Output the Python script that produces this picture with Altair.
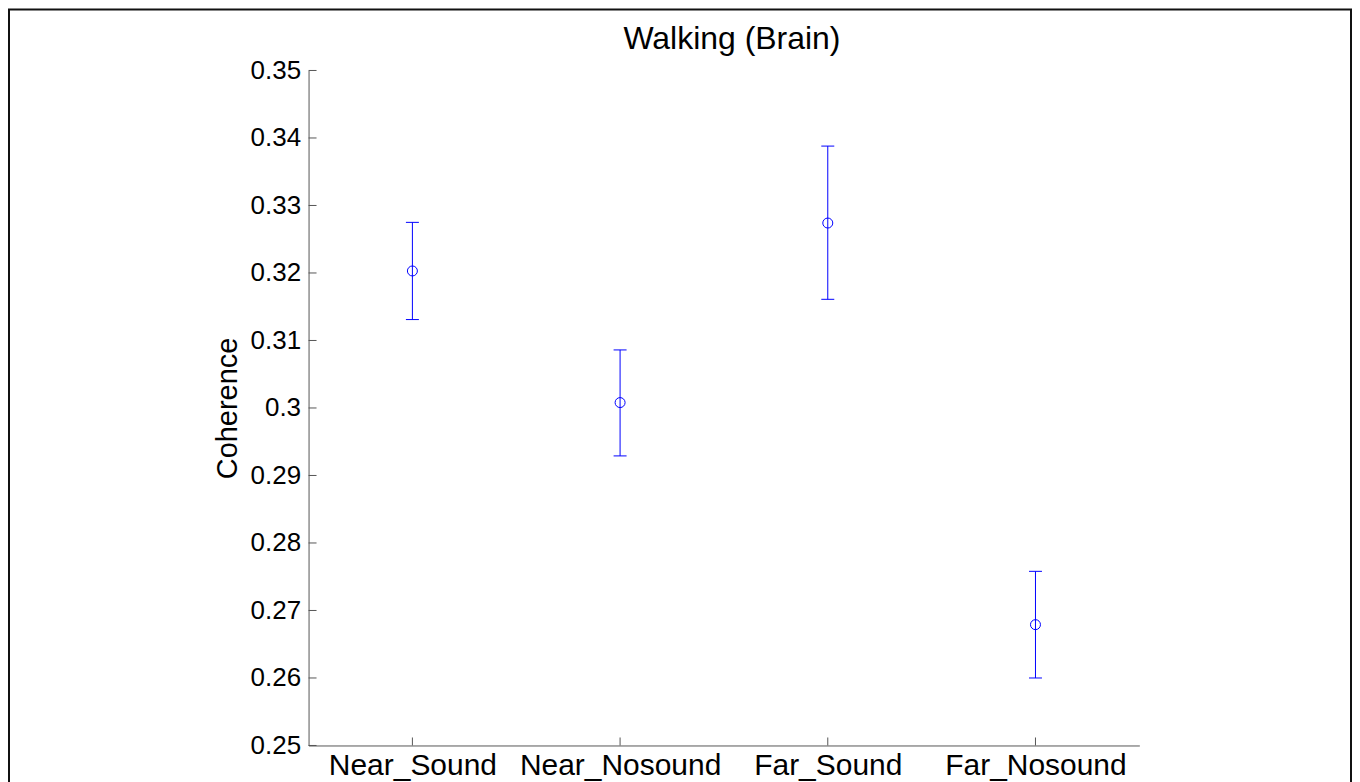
import altair as alt
import pandas as pd

# ---- data ----
categories = ["Near_Sound", "Near_Nosound", "Far_Sound", "Far_Nosound"]
means = [0.3203, 0.3008, 0.3274, 0.2679]
upper = [0.3275, 0.3086, 0.3388, 0.2758]
lower = [0.3131, 0.2929, 0.3161, 0.2600]
y_ticks = [0.25, 0.26, 0.27, 0.28, 0.29, 0.30, 0.31, 0.32, 0.33, 0.34, 0.35]

df = pd.DataFrame({"condition": categories, "mean": means, "upper": upper, "lower": lower})
ytick_df = pd.DataFrame({"v": y_ticks})

W, H = 832, 676
BLUE = "#0000ff"
AXC = "#555555"
FONT = "Liberation Sans"

xscale = alt.Scale(type="point", domain=categories, padding=0.5)
yscale = alt.Scale(domain=[0.25, 0.35], nice=False, zero=False)

x_axis = alt.Axis(title=None, labelFontSize=30, labelFont=FONT, labelColor="black",
                  labelAngle=0, labelAlign="center", labelBaseline="top", labelLimit=400,
                  ticks=False, tickSize=0, labelPadding=5,
                  domainColor=AXC, domainWidth=1, grid=False)
y_axis = alt.Axis(title="Coherence", values=y_ticks, format="~g", labelFontSize=26,
                  labelFont=FONT, labelColor="black", ticks=False, tickSize=0,
                  labelPadding=8, labelFlush=False, titleFont=FONT, titleFontSize=29,
                  titleFontWeight="normal", titleColor="black", titlePadding=8,
                  grid=False, domainColor=AXC, domainWidth=1)


def X():
    return alt.X("condition:N", scale=xscale, sort=categories, axis=x_axis)


def Y(field):
    return alt.Y(field, scale=yscale, axis=y_axis)


base = alt.Chart(df)

bars = base.mark_rule(color=BLUE, strokeWidth=1).encode(
    x=X(), y=Y("lower:Q"), y2="upper:Q",
)
cap_top = base.mark_tick(orient="horizontal", size=13, thickness=1, color=BLUE, opacity=1).encode(
    x=X(), y=Y("upper:Q"),
)
cap_bot = base.mark_tick(orient="horizontal", size=13, thickness=1, color=BLUE, opacity=1).encode(
    x=X(), y=Y("lower:Q"),
)
points = base.mark_point(shape="circle", filled=False, size=100, color=BLUE, strokeWidth=1, opacity=1).encode(
    x=X(), y=Y("mean:Q"),
)

# inward ticks (MATLAB style)
yticks_in = alt.Chart(ytick_df).mark_rule(color=AXC, strokeWidth=1).encode(
    y=Y("v:Q"),
    x=alt.value(0),
    x2=alt.value(8),
)
xticks_in = base.mark_rule(color=AXC, strokeWidth=1).encode(
    x=X(),
    y=alt.value(H),
    y2=alt.value(H - 8),
)

# figure frame
frame = alt.Chart(alt.Data(values=[{"a": 1}])).mark_rect(
    fillOpacity=0, stroke="#111111", strokeWidth=2
).encode(
    x=alt.value(-300),
    x2=alt.value(1044),
    y=alt.value(-61),
    y2=alt.value(H + 80),
)

chart = alt.layer(frame, yticks_in, xticks_in, bars, cap_top, cap_bot, points).properties(
    width=W,
    height=H,
    title=alt.TitleParams("Walking (Brain)", fontSize=32, font=FONT, fontWeight="normal",
                          color="black", offset=-47, dx=8, anchor="middle", frame="group"),
    autosize=alt.AutoSizeParams(type="none"),
    padding={"left": 301, "top": 62, "right": 213, "bottom": 36},
    background="white",
).configure_view(stroke=None)

chart.save("out.html", embed_options={"renderer": "svg", "actions": False})
